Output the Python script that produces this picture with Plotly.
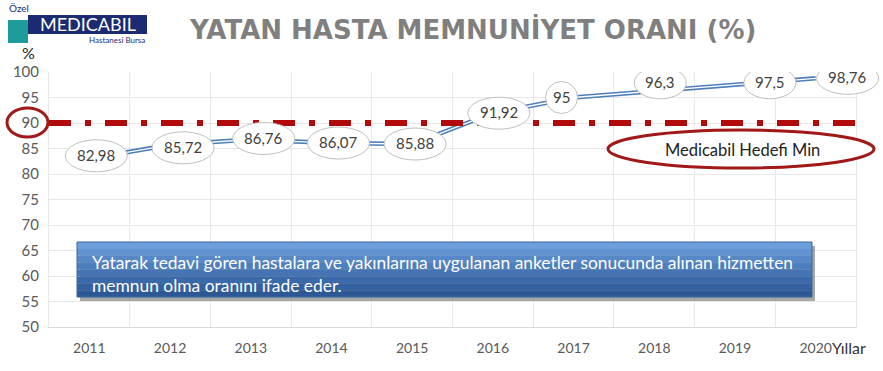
import plotly.graph_objects as go

# ---- data ----
years = ["2011", "2012", "2013", "2014", "2015", "2016", "2017", "2018", "2019", "2020"]
values = [82.98, 85.72, 86.76, 86.07, 85.88, 91.92, 95.0, 96.3, 97.5, 98.76]
value_labels = ["82,98", "85,72", "86,76", "86,07", "85,88", "91,92", "95", "96,3", "97,5", "98,76"]
target = 90
target_label = "Medicabil Hedefi Min"
y_ticks = [50, 55, 60, 65, 70, 75, 80, 85, 90, 95, 100]
title = "YATAN HASTA MEMNUNİYET ORANI (%)"
note_lines = ["Yatarak tedavi gören hastalara ve yakınlarına uygulanan anketler sonucunda alınan hizmetten",
              "memnun olma oranını ifade eder."]

# label offsets (pixels) as placed in the original chart
lab_dx = [7, 13, 13, 7, 3, 6, -12, 6, 35, 32]
lab_dy = [3, -3, 1, 0, 0, 0, 0, 8, 2, 0]

W, H = 883, 371
L, R, T, B = 49, 27, 72, 44
PW = W - L - R
PH = H - T - B


def px(x):
    return (x - L) / PW


def py(y):
    return (H - B - y) / PH


FONT = "Lato"
n = len(years)
xs = list(range(n))

fig = go.Figure()
fig.add_trace(go.Scatter(x=xs, y=values, mode="lines",
                         line=dict(color="#4E7FBA", width=4.5), hoverinfo="skip", showlegend=False))
fig.add_trace(go.Scatter(x=xs, y=values, mode="lines",
                         line=dict(color="white", width=1.3), hoverinfo="skip", showlegend=False))

shapes = []
annotations = []


def text_at(x, y, txt, size, color, family=FONT, xanchor="center"):
    annotations.append(dict(x=px(x), y=py(y), xref="paper", yref="paper", text=txt, showarrow=False,
                            xanchor=xanchor, yanchor="middle",
                            font=dict(family=family, size=size, color=color)))


# target line
shapes.append(dict(type="line", xref="paper", yref="y", x0=0, x1=1, y0=target, y1=target,
                   line=dict(color="#B00A0A", width=6, dash="22px,14px,6px,14px"), layer="above"))

# data label ellipses (category centre in the x domain, value on the y axis)
for i, (v, lab) in enumerate(zip(values, value_labels)):
    w = 10 * len(lab) + 12
    h = 32
    dx, dy = lab_dx[i], lab_dy[i]
    shapes.append(dict(type="circle", xref="paper", yref="y", xsizemode="pixel", ysizemode="pixel",
                       xanchor=(i + 0.5) / n, yanchor=v, x0=dx - w / 2, x1=dx + w / 2,
                       y0=dy - h / 2, y1=dy + h / 2,
                       fillcolor="white", line=dict(color="#BFBFBF", width=1), layer="above"))
    annotations.append(dict(x=i, y=v, xref="x", yref="y", text=lab, showarrow=False,
                            xanchor="center", yanchor="middle",
                            xshift=dx, yshift=dy + 1, font=dict(family=FONT, size=15, color="#404040")))

# target label ellipse
shapes.append(dict(type="circle", xref="paper", yref="paper", x0=px(608), x1=px(874), y0=py(168), y1=py(130),
                   fillcolor="white", line=dict(color="#A01818", width=3), layer="above"))
text_at(742, 150, target_label, 16.5, "#222222")
# circle around 90 tick
shapes.append(dict(type="circle", xref="paper", yref="paper", x0=px(7), x1=px(48), y0=py(137), y1=py(108),
                   line=dict(color="#A01818", width=3), layer="above"))

# note box: shadow + gradient bands
bx0, bx1, by0, by1 = 77, 812, 242, 297
shapes.append(dict(type="rect", xref="paper", yref="paper", x0=px(bx0 + 3), x1=px(bx1 + 3), y0=py(by1 + 4), y1=py(by0 + 4),
                   fillcolor="rgba(60,60,60,0.45)", line=dict(width=0), layer="above"))
band_cols = ["#6C9EDB", "#6193D2", "#5788C8", "#4D7EBE", "#4474B4", "#3B6AAA", "#3361A0", "#2C5896"]
nb = len(band_cols)
for k, c in enumerate(band_cols):
    y0 = by0 + (by1 - by0) * k / nb
    y1 = by0 + (by1 - by0) * (k + 1) / nb
    shapes.append(dict(type="rect", xref="paper", yref="paper", x0=px(bx0), x1=px(bx1), y0=py(y1), y1=py(y0),
                       fillcolor=c, line=dict(width=0), layer="above"))
shapes.append(dict(type="rect", xref="paper", yref="paper", x0=px(bx0), x1=px(bx1), y0=py(by1), y1=py(by0),
                   fillcolor="rgba(0,0,0,0)", line=dict(color="#3A66A0", width=1), layer="above"))
for j, line_txt in enumerate(note_lines):
    text_at(90, 262 + 23 * j, line_txt, 17.4, "white", xanchor="left")

# logo
shapes.append(dict(type="rect", xref="paper", yref="paper", x0=px(8), x1=px(28), y0=py(43), y1=py(20),
                   fillcolor="#1E9C9C", line=dict(width=0), layer="above"))
shapes.append(dict(type="rect", xref="paper", yref="paper", x0=px(28), x1=px(147), y0=py(34), y1=py(15),
                   fillcolor="#1B2B72", line=dict(width=0), layer="above"))
text_at(19, 8, "Özel", 10, "#1B2B72")
text_at(88, 24, "MEDICABIL", 18, "white")
text_at(147, 40, "Hastanesi Bursa", 8, "#1B2B72", xanchor="right")

# title
text_at(472, 30, "<b>" + title + "</b>", 26, "#7F7F7F", family="DejaVu Sans")
# axis titles
text_at(28, 52, "%", 16, "#222222")
text_at(849, 347, "Yıllar", 16, "#333333")

fig.update_layout(
    width=W, height=H,
    margin=dict(l=L, r=R, t=T, b=B),
    paper_bgcolor="white", plot_bgcolor="white",
    shapes=shapes, annotations=annotations, showlegend=False,
    xaxis=dict(range=[-0.5, n - 0.5], tickmode="array", tickvals=xs, ticktext=years,
               showgrid=False, zeroline=False, showline=True, linecolor="#D9D9D9", linewidth=1,
               ticks="", ticklabelstandoff=8,
               tickfont=dict(family=FONT, size=14, color="#595959"),
               minor=dict(tickmode="array", tickvals=[i - 0.5 for i in range(n + 1)],
                          showgrid=True, gridcolor="#E8E8E8", gridwidth=1, ticks="")),
    yaxis=dict(range=[50, 100], tickmode="array", tickvals=y_ticks, showgrid=True, gridcolor="#E8E8E8",
               zeroline=False, showline=True, linecolor="#E8E8E8", mirror=True, ticks="",
               ticklabelstandoff=6,
               tickfont=dict(family=FONT, size=15, color="#595959")),
)

fig.write_html("out.html", config={"displayModeBar": False},
               post_script="document.body.style.margin='0';document.body.style.overflow='hidden';")
